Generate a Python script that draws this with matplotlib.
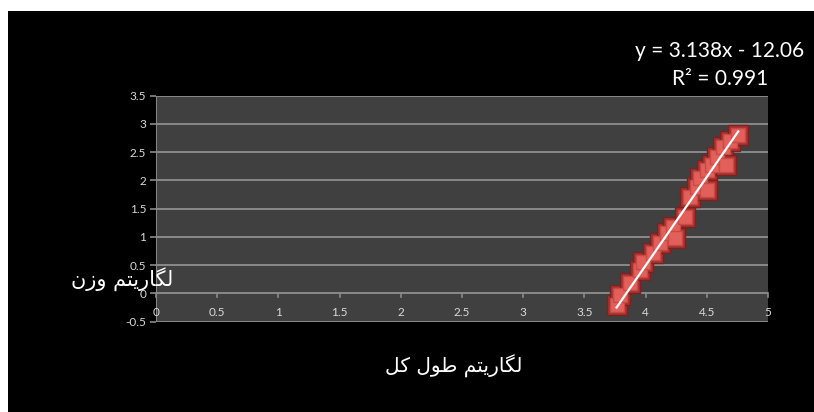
import numpy as np
import matplotlib
matplotlib.use('Agg')
import matplotlib.pyplot as plt
from matplotlib.patches import Rectangle

# log(total length) vs log(weight)
log_length = [3.763, 3.79, 3.873, 3.954, 3.98, 4.063, 4.118, 4.172, 4.227, 4.24,
              4.322, 4.363, 4.417, 4.444, 4.5, 4.5, 4.54, 4.58, 4.635, 4.66, 4.69, 4.757]
log_weight = [-0.207, -0.03, 0.177, 0.413, 0.56, 0.709, 0.887, 1.064, 1.18, 0.975,
              1.358, 1.713, 1.89, 2.04, 2.186, 1.83, 2.275, 2.42, 2.6, 2.275, 2.69, 2.807]

# trend line coefficients
slope = 3.138
intercept = -12.06
r2 = 0.991

x_ticks = [0, 0.5, 1, 1.5, 2, 2.5, 3, 3.5, 4, 4.5, 5]
y_ticks = [-0.5, 0, 0.5, 1, 1.5, 2, 2.5, 3, 3.5]

# Persian axis titles, written in shaped (presentation) forms, visual order
y_title = '\uFEE5\uFEAF\uFEED \uFEE2\uFE98\uFBFE\uFEAD\uFE8E\uFB95\uFEDF'  # لگاریتم وزن
x_title = '\uFEDE\uFB90 \uFEDD\uFEEE\uFEC3 \uFEE2\uFE98\uFBFE\uFEAD\uFE8E\uFB95\uFEDF'  # لگاریتم طول کل

fig = plt.figure(figsize=(8.14, 4.12), dpi=100, facecolor='white')
fig.patches.append(Rectangle((8 / 814, 0), 1, 1 - 11 / 412, transform=fig.transFigure,
                             facecolor='black', edgecolor='none', zorder=-10))

ax = fig.add_axes([156 / 814, (412 - 321.5) / 412, 612 / 814, 225.8 / 412])
ax.set_facecolor('#404040')
ax.set_xlim(0, 5)
ax.set_ylim(-0.5, 3.5)

grid_c = '#8a8a8a'
for yv in y_ticks:
    ax.axhline(yv, color=grid_c, lw=1.4, zorder=1)
ax.axvline(0, color=grid_c, lw=1.4, zorder=1)
for s in ax.spines.values():
    s.set_visible(False)

# y ticks on the left
ax.set_yticks(y_ticks)
ax.set_yticklabels([f'{v:g}' for v in y_ticks], family='Lato')
ax.tick_params(axis='y', colors=grid_c, length=4, width=1.2, labelcolor='#d9d9d9',
               labelsize=8.5, pad=3)
ax.set_xticks([])

# x axis crosses at y = 0, labels sit just below it
for xv in x_ticks:
    ax.plot([xv, xv], [0, -0.06], color=grid_c, lw=1.2, zorder=1, clip_on=False)
    ax.text(xv, -0.34, f'{xv:g}', color='#d9d9d9', fontsize=8.5, ha='center', va='center',
            family='Lato')

# data points: shadow then face
ax.plot(log_length, log_weight, 's', ms=15, mfc='#a8302e', mec='#7a2220', mew=1,
        zorder=3, clip_on=False)
ax.plot(log_length, log_weight, 's', ms=10, mfc='#e35f5a', mec='#c84a46', mew=1,
        zorder=4, clip_on=False)

# linear trend line
xt = np.array([min(log_length), max(log_length)])
ax.plot(xt, slope * xt + intercept, color='white', lw=1.6, zorder=5)

fig.text(720 / 814, 1 - 51 / 412, f'y = {slope}x - {abs(intercept):.2f}', color='white',
         fontsize=15, ha='center', va='center', family='Lato')
fig.text(720 / 814, 1 - 79 / 412, f'R² = {r2}', color='white',
         fontsize=15, ha='center', va='center', family='Lato')

fig.text(122 / 814, 1 - 279 / 412, y_title, color='white', fontsize=15,
         ha='center', va='center', family='DejaVu Sans')
fig.text(454 / 814, 1 - 366 / 412, x_title, color='white', fontsize=14.5,
         ha='center', va='center', family='DejaVu Sans')

fig.savefig('out.png', dpi=100, facecolor='white')
